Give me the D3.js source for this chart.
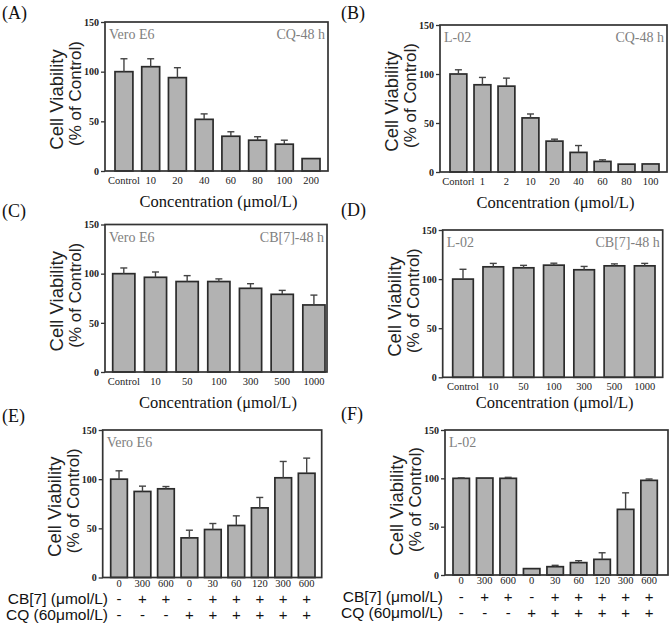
<!DOCTYPE html>
<html>
<head>
<meta charset="utf-8">
<script src="https://cdn.jsdelivr.net/npm/d3@7"></script>
<style>
  html, body { margin: 0; padding: 0; background: #fff; }
  svg { display: block; }
</style>
</head>
<body>
<svg id="chart" width="669" height="624"></svg>
<script>
// ---------------- DATA ----------------
const yTicks = [0, 50, 100, 150];

const catsA = ["Control", "10", "20", "40", "60", "80", "100", "200"];
const valsA = [100, 105, 94, 52, 35, 31, 27, 12.5];
const sdA   = [13, 8, 10, 5.5, 4.5, 3.5, 4, 0];

const catsB = ["Contorl", "1", "2", "10", "20", "40", "60", "80", "100"];
const valsB = [100, 89, 87.6, 55.2, 31.5, 20, 10.8, 8, 8.2];
const sdB   = [4.3, 7.5, 8.2, 4, 2, 7, 1.6, 0, 0];

const catsC = ["Control", "10", "50", "100", "300", "500", "1000"];
const valsC = [100, 96.3, 92, 92, 85.1, 79, 68.2];
const sdC   = [5.8, 5.4, 6, 2.7, 4.7, 4, 10];

const catsD = ["Control", "10", "50", "100", "300", "500", "1000"];
const valsD = [100, 112.5, 111.5, 114.2, 109.5, 113.5, 113.5];
const sdD   = [10, 3.5, 2.5, 2, 3.4, 2, 2.5];

const catsEF = ["0", "300", "600", "0", "30", "60", "120", "300", "600"];
const cb7Signs = ["-", "+", "+", "-", "+", "+", "+", "+", "+"];
const cqSigns  = ["-", "-", "-", "+", "+", "+", "+", "+", "+"];
const valsE = [100, 87.5, 90.2, 40.3, 48.8, 52.9, 70.8, 101.4, 106];
const sdE   = [8.5, 5.4, 2.3, 7.8, 6.1, 9.8, 10.6, 16.6, 15.4];
const valsF = [100, 100.3, 100, 6.6, 8.6, 12.8, 16.2, 67.9, 97.9];
const sdF   = [0.5, 0, 1, 0, 1.4, 2, 6.8, 17.1, 1.4];

const xTitle = "Concentration (\u03bcmol/L)";
const yTitle1 = "Cell Viability";
const yTitle2 = "(% of Control)";
const rowLabelCB = "CB[7] (\u03bcmol/L)";
const rowLabelCQ = "CQ (60\u03bcmol/L)";

// ---------------- LAYOUT ----------------
const SERIF = "'Liberation Serif', 'Times New Roman', serif";
const SANS = "'Liberation Sans', Arial, sans-serif";
const BAR_FILL = "#b2b2b2";
const DARK = "#2b2b2b";
const INSIDE = "#808080";

const panels = [
  { letter: "(A)", lx: 2, ly: 19, frame: [105, 328, 22, 171], bars: [115, 320], pad: 0.33,
    cats: catsA, vals: valsA, sds: sdA, cell: "Vero E6", treat: "CQ-48 h", tickPad: 6,
    xt: 207 },
  { letter: "(B)", lx: 341, ly: 19, frame: [440, 667, 25, 172], bars: [450, 659], pad: 0.3,
    cats: catsB, vals: valsB, sds: sdB, cell: "L-02", treat: "CQ-48 h", tickPad: 6,
    xt: 208 },
  { letter: "(C)", lx: 2, ly: 217, frame: [105, 327, 224.5, 372], bars: [112.7, 325], pad: 0.3,
    cats: catsC, vals: valsC, sds: sdC, cell: "Vero E6", treat: "CB[7]-48 h", tickPad: 6,
    xt: 408 },
  { letter: "(D)", lx: 341, ly: 216, frame: [442.7, 662.7, 230, 377.3], bars: [452.7, 655], pad: 0.32,
    cats: catsD, vals: valsD, sds: sdD, cell: "L-02", treat: "CB[7]-48 h", tickPad: 5,
    xt: 408 },
  { letter: "(E)", lx: 2, ly: 422, frame: [102.7, 321.7, 430, 577.5], bars: [110.7, 315], pad: 0.29,
    cats: catsEF, vals: valsE, sds: sdE, cell: "Vero E6", treat: null, tickPad: 2,
    rows: { labelX: 108, cbY: 604, cqY: 620 } },
  { letter: "(F)", lx: 341, ly: 420, frame: [445, 668, 430, 575], bars: [453, 657.3], pad: 0.3,
    cats: catsEF, vals: valsF, sds: sdF, cell: "L-02", treat: null, tickPad: 2,
    rows: { labelX: 443, cbY: 602, cqY: 618 } }
];

const svg = d3.select("#chart");

panels.forEach(p => {
  const [fx0, fx1, fy0, fy1] = p.frame;
  const g = svg.append("g");

  const x = d3.scaleBand().domain(p.cats.map((c, i) => i)).range(p.bars)
    .paddingInner(p.pad).paddingOuter(0);
  const y = d3.scaleLinear().domain([0, 150]).range([fy1, fy0]);

  // panel letter
  g.append("text").attr("x", p.lx).attr("y", p.ly)
    .attr("font-family", SERIF).attr("font-size", 18).attr("fill", "#111")
    .text(p.letter);

  // bars
  const data = p.vals.map((v, i) => ({ i, v, sd: p.sds[i] }));
  g.selectAll("rect.bar").data(data).join("rect")
    .attr("class", "bar")
    .attr("x", d => x(d.i))
    .attr("width", x.bandwidth())
    .attr("y", d => y(d.v))
    .attr("height", d => y(0) - y(d.v))
    .attr("fill", BAR_FILL)
    .attr("stroke", DARK)
    .attr("stroke-width", 1.7);

  // error bars (upper only)
  const eb = g.selectAll("g.err").data(data.filter(d => d.sd > 0)).join("g").attr("class", "err");
  eb.append("line")
    .attr("x1", d => x(d.i) + x.bandwidth() / 2)
    .attr("x2", d => x(d.i) + x.bandwidth() / 2)
    .attr("y1", d => y(d.v))
    .attr("y2", d => y(d.v + d.sd))
    .attr("stroke", "#444").attr("stroke-width", 1.4);
  eb.append("line")
    .attr("x1", d => x(d.i) + x.bandwidth() / 2 - 3.5)
    .attr("x2", d => x(d.i) + x.bandwidth() / 2 + 3.5)
    .attr("y1", d => y(d.v + d.sd))
    .attr("y2", d => y(d.v + d.sd))
    .attr("stroke", "#444").attr("stroke-width", 1.4);

  // frame
  g.append("rect").attr("x", fx0).attr("y", fy0)
    .attr("width", fx1 - fx0).attr("height", fy1 - fy0)
    .attr("fill", "none").attr("stroke", "#333").attr("stroke-width", 1.7);

  // y axis
  const yAxis = g.append("g").attr("transform", `translate(${fx0},0)`)
    .call(d3.axisLeft(y).tickValues(yTicks).tickSize(4).tickPadding(2));
  yAxis.select(".domain").remove();
  yAxis.selectAll("line").attr("stroke", "#333").attr("stroke-width", 1.3);
  yAxis.selectAll("text").attr("font-family", SERIF).attr("font-size", 10)
    .attr("font-weight", "bold").attr("fill", "#222");

  // x axis labels
  const xAxis = g.append("g").attr("transform", `translate(0,${fy1})`)
    .call(d3.axisBottom(x).tickSize(0).tickPadding(p.tickPad).tickFormat(i => p.cats[i]));
  xAxis.select(".domain").remove();
  xAxis.selectAll("text").attr("font-family", SERIF).attr("font-size", 10.5)
    .attr("fill", "#222");

  // inside labels
  g.append("text").attr("x", fx0 + 4).attr("y", fy0 + 17)
    .attr("font-family", SERIF).attr("font-size", 14).attr("fill", INSIDE)
    .text(p.cell);
  if (p.treat) {
    g.append("text").attr("x", fx1 - 3).attr("y", fy0 + 17)
      .attr("text-anchor", "end")
      .attr("font-family", SERIF).attr("font-size", 14).attr("fill", INSIDE)
      .text(p.treat);
  }

  // y titles
  const cy = (fy0 + fy1) / 2;
  g.append("text").attr("transform", `translate(${fx0 - 42},${cy + 3}) rotate(-90)`)
    .attr("text-anchor", "middle").attr("font-family", SANS).attr("font-size", 18.5)
    .attr("fill", "#222").text(yTitle1);
  g.append("text").attr("transform", `translate(${fx0 - 24},${cy - 3}) rotate(-90)`)
    .attr("text-anchor", "middle").attr("font-family", SANS).attr("font-size", 17)
    .attr("fill", "#222").text(yTitle2);

  // x title
  if (p.xt) {
    g.append("text").attr("x", (fx0 + fx1) / 2 + 2).attr("y", p.xt)
      .attr("text-anchor", "middle").attr("font-family", SERIF).attr("font-size", 16.5)
      .attr("fill", "#111").text(xTitle);
  }

  // treatment rows
  if (p.rows) {
    const r = p.rows;
    g.append("text").attr("x", r.labelX).attr("y", r.cbY).attr("text-anchor", "end")
      .attr("font-family", SANS).attr("font-size", 15.5).attr("fill", "#111").text(rowLabelCB);
    g.append("text").attr("x", r.labelX).attr("y", r.cqY).attr("text-anchor", "end")
      .attr("font-family", SANS).attr("font-size", 15.5).attr("fill", "#111").text(rowLabelCQ);
    g.selectAll("text.cb").data(cb7Signs).join("text").attr("class", "cb")
      .attr("x", (d, i) => x(i) + x.bandwidth() / 2).attr("y", r.cbY)
      .attr("text-anchor", "middle").attr("font-family", SANS).attr("font-size", 15)
      .attr("fill", "#111").text(d => d);
    g.selectAll("text.cq").data(cqSigns).join("text").attr("class", "cq")
      .attr("x", (d, i) => x(i) + x.bandwidth() / 2).attr("y", r.cqY)
      .attr("text-anchor", "middle").attr("font-family", SANS).attr("font-size", 15)
      .attr("fill", "#111").text(d => d);
  }
});
</script>
</body>
</html>
